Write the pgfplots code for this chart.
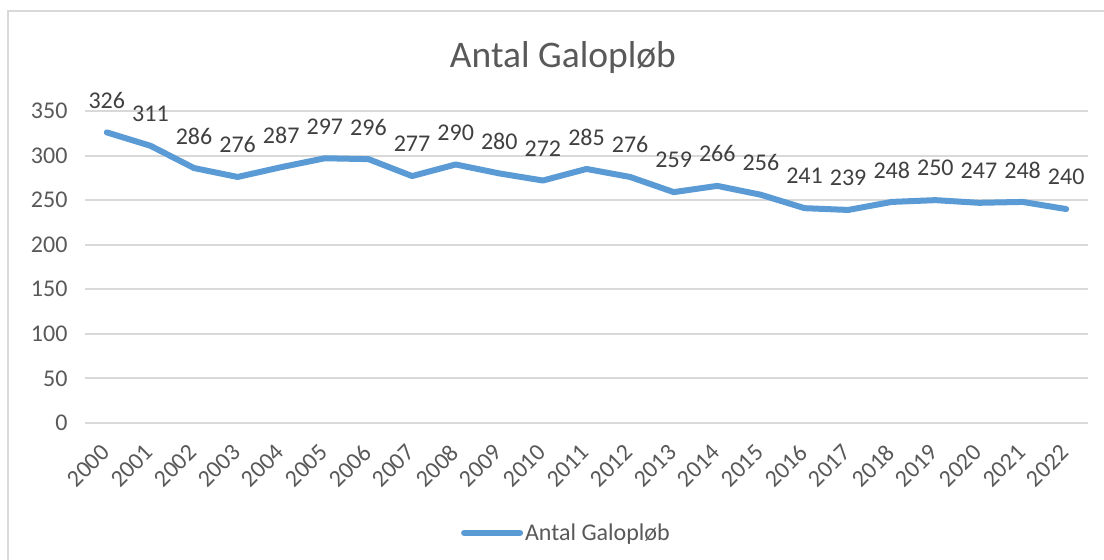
\documentclass[border=0pt]{standalone}
\usepackage{pgfplots}
\pgfplotsset{compat=1.18}
\usepackage{fontspec}
\setmainfont{Carlito}
\definecolor{lineblue}{HTML}{5B9BD5}
\definecolor{gridc}{HTML}{D9D9D9}
\definecolor{tickc}{HTML}{595959}
\definecolor{labc}{HTML}{404040}
\begin{document}
\begin{tikzpicture}[x=1pt,y=1pt]
\useasboundingbox (0,0) rectangle (1104,560);
\fill[white] (0,0) rectangle (1104,560);
\draw[gridc, line width=2pt] (8,0) -- (8,549) -- (1104,549);
\node[font=\fontsize{37.5}{40}\selectfont, text=tickc] at (563,502) {Antal Galopløb};
\begin{scope}[shift={(85pt,137pt)}]
\begin{axis}[
  at={(0pt,0pt)}, anchor=south west,
  scale only axis, width=1003pt, height=312pt,
  xmin=-0.5, xmax=22.5, ymin=0, ymax=350,
  ytick={0,50,...,350},
  xtick={0,...,22},
  xticklabels={2000,2001,2002,2003,2004,2005,2006,2007,2008,2009,2010,2011,2012,2013,2014,2015,2016,2017,2018,2019,2020,2021,2022},
  axis line style={draw=none},
  major tick length=0pt,
  ymajorgrids, grid style={gridc, line width=2pt},
  /pgf/number format/assume math mode=true,
  tick label style={font=\fontsize{24}{28}\selectfont, text=tickc},
  yticklabel style={xshift=-14pt},
  xticklabel style={anchor=north east, xshift=-7pt, yshift=-15pt, rotate=45},
  clip=false,
  legend style={draw=none, fill=none, font=\fontsize{24}{28}\selectfont, text=tickc, legend cell align=left,
    at={(rel axis cs:0.48,-0.352)}, anchor=center},
  legend image code/.code={\draw[#1, line cap=round] (0pt,0pt) -- (56pt,0pt);},
]
\addplot[lineblue, line width=6pt, line join=round, line cap=round,
  nodes near coords,
  every node near coord/.append style={font=\fontsize{24}{28}\selectfont, text=labc, anchor=center, yshift=32pt}
] coordinates {
(0,326)(1,311)(2,286)(3,276)(4,287)(5,297)(6,296)(7,277)(8,290)(9,280)(10,272)(11,285)(12,276)(13,259)(14,266)(15,256)(16,241)(17,239)(18,248)(19,250)(20,247)(21,248)(22,240)
};
\addlegendentry{Antal Galopløb}
\end{axis}
\end{scope}
\end{tikzpicture}
\end{document}
